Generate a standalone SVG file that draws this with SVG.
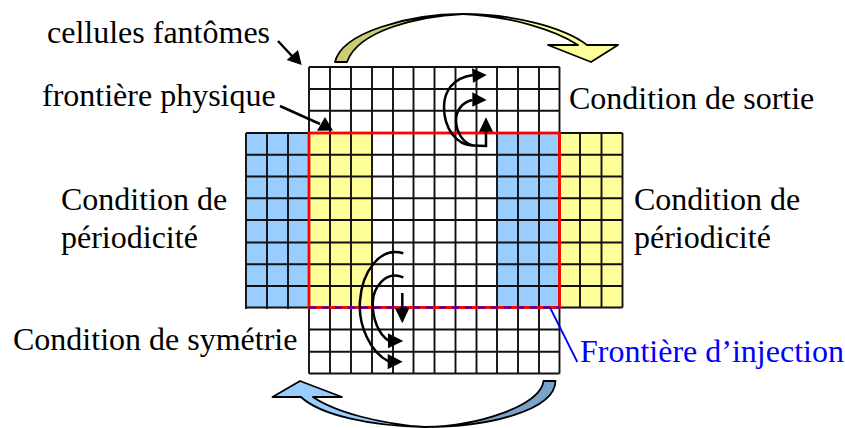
<svg xmlns="http://www.w3.org/2000/svg" width="845" height="428" viewBox="0 0 845 428">
<style>
text{font-family:"Liberation Serif","Times New Roman",serif;font-size:32px;fill:#000}
.g{stroke:#111;stroke-width:1.900;fill:none}
.s{stroke:#000;stroke-width:2.500;fill:none}
.o{stroke:#000;stroke-width:1.800;stroke-linejoin:round}
</style>
<g id="fills">
<rect x="246" y="133" width="63" height="174.500" fill="#99ccff"/>
<rect x="309" y="133" width="63" height="174.500" fill="#ffff99"/>
<rect x="497" y="133" width="62" height="174.500" fill="#99ccff"/>
<rect x="559" y="133" width="63.500" height="174.500" fill="#ffff99"/>
</g>
<g id="grid">
<path class="g" d="M309 67V373.500M330 67V373.500M351 67V373.500M372 67V373.500M393 67V373.500M413.500 67V373.500M434.500 67V373.500M455.500 67V373.500M476.500 67V373.500M497 67V373.500M518 67V373.500M539 67V373.500M559.500 67V373.500"/>
<path class="g" d="M309 67H559.500M309 89H559.500M309 110.800H559.500M309 329.500H559.500M309 351.800H559.500M309 373.500H559.500"/>
<path class="g" d="M246 133H622.500M246 154.800H622.500M246 176.500H622.500M246 198.300H622.500M246 220H622.500M246 242.500H622.500M246 264.300H622.500M246 286H622.500M246 307.500H622.500"/>
<path class="g" d="M246 133V309M267 133V309M288 133V309M580 133V307.500M601.500 133V307.500M622.500 133V307.500"/>
</g>
<g id="physical-boundary">
<rect x="309" y="133" width="250.500" height="174.500" fill="none" stroke="#ff0000" stroke-width="2.800"/>
</g>
<g id="injection-boundary">
<path d="M309 307.500H559.500" stroke="#0000ff" stroke-width="1.800" stroke-dasharray="7 6" fill="none"/>
<path d="M550 307.500L577.300 362" stroke="#0000ff" stroke-width="1.800" fill="none"/>
</g>
<g id="connectors">
<path class="s" d="M278 41L292 56"/><path d="M301.700 65L286.700 60L298 50Z"/>
<path class="s" d="M280 106L320 124"/><path d="M333 130.500L317 130.700L325 117Z"/>
<path class="s" d="M473 75C452 78 444 92 444 107C444 128 456 145 473 145.500L486 146V130"/>
<path d="M486 117.300L479 131.700H493Z"/>
<path d="M472 68.300L486.700 75L473 82.700Z"/>
<path class="s" d="M472.500 100C462 102 456 111 456 120C456 132 463 143 473 145.500"/>
<path d="M472.300 92.300L486.700 100L472.300 106.700Z"/>
<path class="s" d="M403.300 253.300C380 246 362 272 360 301C358 325 370 352 389 361.700"/>
<path d="M387.700 354L402.700 361.700L387.700 369.300Z"/>
<path class="s" d="M403.300 277.300C385 270 373 288 372.700 303C372.500 318 378 334 389 341"/>
<path d="M388 333.300L403.300 341L388 348.300Z"/>
<path class="s" d="M402.300 293V309"/>
<path d="M395 308.300H409.300L402.300 323.300Z"/>
</g>
<g id="arrow-top">
<path class="o" d="M463 14C515 14 565 28 587 45H618L591 62L548 45H578C555 30 510 16 463 14Z" fill="#ffff99"/>
<path class="o" d="M335 62C342 32 410 14 463 14C420 16 358 30 347 62Z" fill="#cccc77"/>
</g>
<g id="arrow-bottom">
<path class="o" d="M425 427C370 426 320 415 301 397H272.500L300 381L342 397H313C335 412 380 424 425 427Z" fill="#99ccff"/>
<path class="o" d="M543.500 381C541 405 480 426 425 427C490 427 555 410 555.500 381Z" fill="#7aa3cc"/>
</g>
<g id="labels">
<text x="47" y="43">cellules fantômes</text>
<text x="42" y="106">frontière physique</text>
<text x="569" y="109">Condition de sortie</text>
<text x="61" y="210">Condition de</text>
<text x="61" y="248">périodicité</text>
<text x="634" y="210">Condition de</text>
<text x="634" y="248">périodicité</text>
<text x="13" y="350">Condition de symétrie</text>
<text x="580" y="362" style="fill:#0000ff">Frontière d’injection</text>
</g>
</svg>
